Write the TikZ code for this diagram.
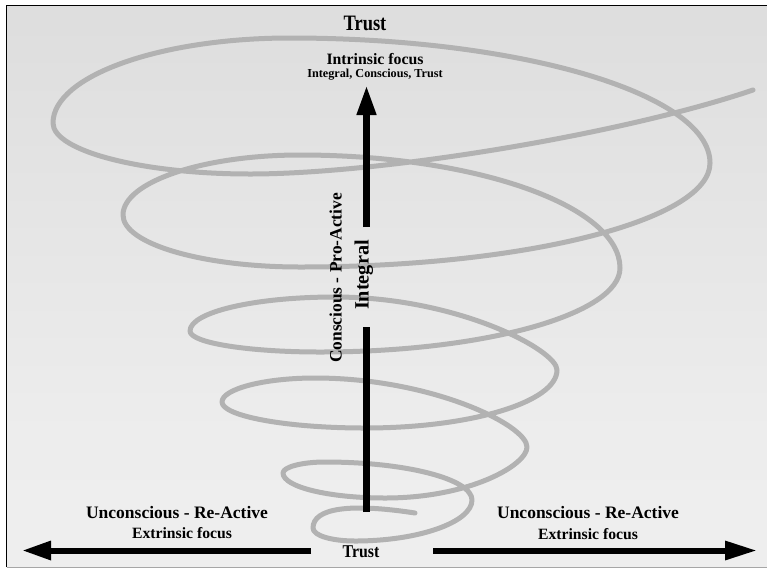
\documentclass[tikz,border=0pt]{standalone}
\usepackage{fontspec}
\usepackage{graphicx}
\setmainfont{Liberation Serif}
\usetikzlibrary{arrows.meta}
\definecolor{spiralgray}{gray}{0.70}
\definecolor{bgA}{gray}{0.90}
\definecolor{bgB}{gray}{0.92}
\definecolor{bgC}{gray}{0.95}
\definecolor{bgD}{gray}{0.96}
\definecolor{bgE}{gray}{0.93}
\definecolor{bgF}{gray}{0.85}
\definecolor{bgG}{gray}{0.80}
\definecolor{bgH}{gray}{0.84}
\definecolor{bgI}{gray}{0.86}
\definecolor{bgJ}{gray}{0.87}
\pgfdeclareverticalshading{bgshade}{100bp}{%
  color(0bp)=(bgA); color(37bp)=(bgB); color(97bp)=(bgC); color(187bp)=(bgD);
  color(267bp)=(bgE); color(317bp)=(bgF); color(345bp)=(bgG); color(370bp)=(bgG);
  color(417bp)=(bgH); color(487bp)=(bgI); color(561bp)=(bgJ)}
\begin{document}
\begin{tikzpicture}[x=1pt,y=-1pt,
  lbl/.style={inner sep=0pt, anchor=base, text=black},
  spir/.style={draw=spiralgray, line width=5pt, line cap=round, line join=round},
  blk/.style={draw=black, line width=7pt},
  hblk/.style={draw=black, line width=6pt}]
\useasboundingbox (0,0) rectangle (767,571);
\fill[white] (0,0) rectangle (767,571);
\shade[shading=bgshade] (7,6) rectangle (767,567);
\draw[line width=1.3pt] (6.5,567) -- (6.5,5.5) -- (767,5.5);
\draw[gray!70, line width=1pt] (6.5,567.5) -- (767,567.5);

% spiral
\draw[spir] (415,513)
 .. controls (350,503) and (313,508) .. (313,528)
 .. controls (313,536) and (333,541) .. (355,541)
 .. controls (419,541) and (472,522) .. (472,500)
 .. controls (472,479) and (406,462) .. (325,462)
 .. controls (302,462) and (283,467) .. (283,473)
 .. controls (283,487) and (329,498) .. (385,498)
 .. controls (470,498) and (527,465) .. (527,447)
 .. controls (527,425) and (431,378) .. (315,378)
 .. controls (264,378) and (222,389) .. (222,402)
 .. controls (222,416) and (286,428) .. (365,428)
 .. controls (471,428) and (557,402) .. (557,370)
 .. controls (557,350) and (457,297) .. (335,297)
 .. controls (255,297) and (190,312) .. (190,331)
 .. controls (190,343) and (249,352) .. (320,352)
 .. controls (485,352) and (620,314) .. (620,268)
 .. controls (620,206) and (476,155) .. (300,155)
 .. controls (203,155) and (123,182) .. (123,215)
 .. controls (123,244) and (203,267) .. (300,267)
 .. controls (526,267) and (710,220) .. (710,163)
 .. controls (710,94) and (521,38) .. (290,38)
 .. controls (160,38) and (53,76) .. (53,123)
 .. controls (53,151) and (142,174) .. (250,174)
 .. controls (380,174) and (620,135) .. (753,90);

% texts
\node[lbl, font=\bfseries\fontsize{22}{26}\selectfont] (trusttop) at (365,30) {\scalebox{0.84}[1]{Trust}};
\node[lbl, font=\bfseries\fontsize{15.8}{18}\selectfont] (intr) at (375,64) {Intrinsic focus};
\node[lbl, font=\bfseries\fontsize{12.2}{14}\selectfont] (intsub) at (375,77) {Integral, Conscious, Trust};
\node[lbl, rotate=90, font=\bfseries\fontsize{20.3}{24}\selectfont] (integral) at (368.5,275) {Integral};
\node[lbl, rotate=90, font=\bfseries\fontsize{17.4}{20}\selectfont] (cpa) at (341.5,278) {Conscious - Pro-Active};
\node[lbl, font=\bfseries\fontsize{17.5}{20}\selectfont] (ucl) at (177,518) {Unconscious - Re-Active};
\node[lbl, font=\bfseries\fontsize{15.7}{18}\selectfont] (efl) at (182,538) {Extrinsic focus};
\node[lbl, font=\bfseries\fontsize{17.5}{20}\selectfont] (ucr) at (588,518) {Unconscious - Re-Active};
\node[lbl, font=\bfseries\fontsize{15.7}{18}\selectfont] (efr) at (588,539) {Extrinsic focus};
\node[lbl, font=\bfseries\fontsize{18}{21}\selectfont] (trustbot) at (361,557) {\scalebox{0.88}[1]{Trust}};

% vertical arrow
\coordinate (vbot) at (366.5,512);
\coordinate (vgaplo) at (366.5,327);
\coordinate (vgaphi) at (366.5,227);
\coordinate (vtop) at (366.5,85);
\draw[blk] (vbot) -- (vgaplo);
\draw[blk, -{Triangle[length=30pt,width=18pt]}] (vgaphi) -- (vtop);

% horizontal arrows
\coordinate (hlstart) at (311,550.5);
\coordinate (hlend) at (22,550.5);
\coordinate (hrstart) at (433,550.5);
\coordinate (hrend) at (757,550.5);
\draw[hblk, -{Triangle[length=29pt,width=18pt]}] (hlstart) -- (hlend);
\draw[hblk, -{Triangle[length=32pt,width=18pt]}] (hrstart) -- (hrend);
\end{tikzpicture}
\end{document}
